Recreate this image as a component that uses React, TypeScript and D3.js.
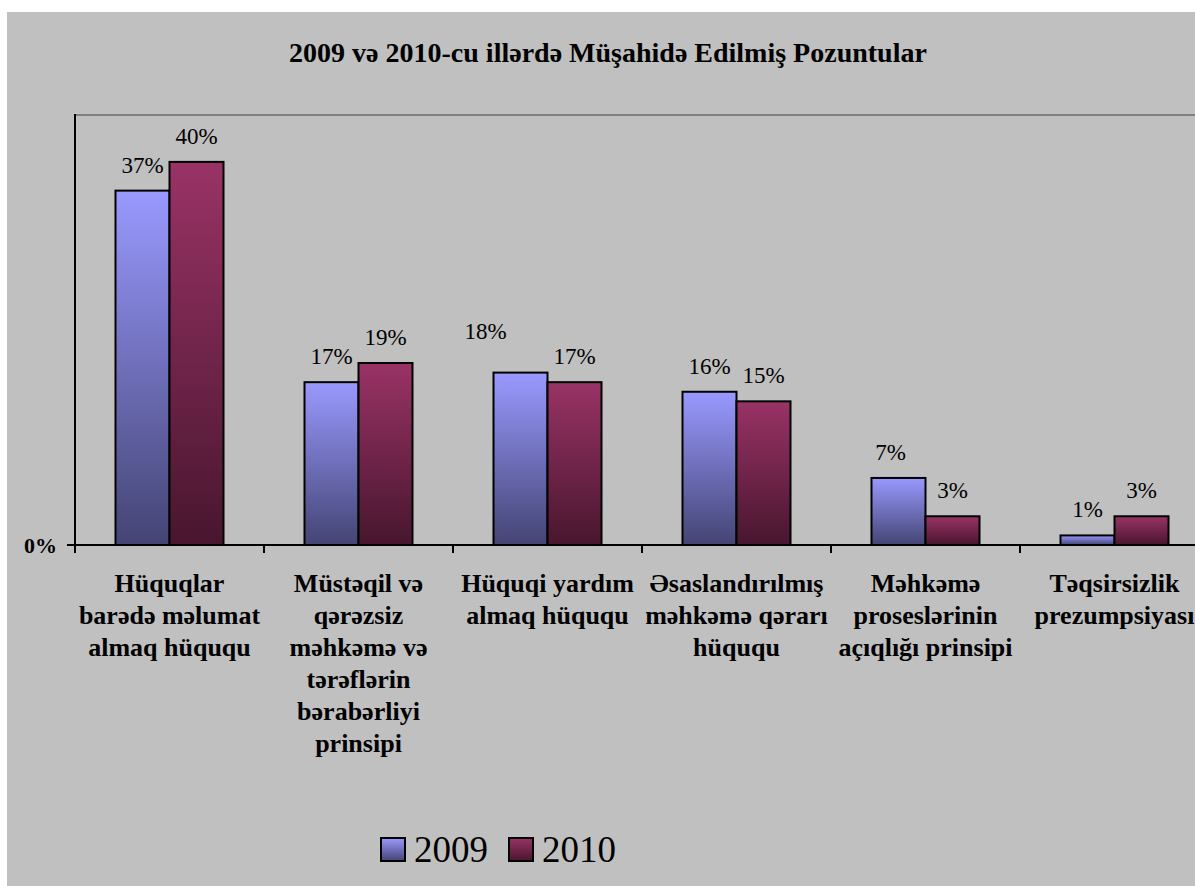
import React from "react";
import * as d3 from "d3";

const title = "2009 və 2010-cu illərdə Müşahidə Edilmiş Pozuntular";
const categories = [
  "Hüquqlar barədə məlumat almaq hüququ",
  "Müstəqil və qərəzsiz məhkəmə və tərəflərin bərabərliyi prinsipi",
  "Hüquqi yardım almaq hüququ",
  "Əsaslandırılmış məhkəmə qərarı hüququ",
  "Məhkəmə proseslərinin açıqlığı prinsipi",
  "Təqsirsizlik prezumpsiyası",
];
const categoryLines = [
  ["Hüquqlar", "barədə məlumat", "almaq hüququ"],
  ["Müstəqil və", "qərəzsiz", "məhkəmə və", "tərəflərin", "bərabərliyi", "prinsipi"],
  ["Hüquqi yardım", "almaq hüququ"],
  ["Əsaslandırılmış", "məhkəmə qərarı", "hüququ"],
  ["Məhkəmə", "proseslərinin", "açıqlığı prinsipi"],
  ["Təqsirsizlik", "prezumpsiyası"],
];
const seriesNames = ["2009", "2010"];
const values2009 = [0.37, 0.17, 0.18, 0.16, 0.07, 0.01];
const values2010 = [0.4, 0.19, 0.17, 0.15, 0.03, 0.03];
const yTicks = [0];

const FONT = "'Liberation Serif', 'Times New Roman', serif";

export default function App() {
  const left = 75;
  const step = 189;
  const baseY = 545;
  const topY = 114;
  const x0 = d3
    .scaleBand<string>()
    .domain(categories)
    .range([left, left + step * categories.length])
    .paddingInner(0)
    .paddingOuter(0);
  const x1 = d3
    .scaleBand<string>()
    .domain(seriesNames)
    .range([0, x0.bandwidth()])
    .paddingInner(0)
    .paddingOuter(0.75);
  const y = d3.scaleLinear().domain([0, 0.45]).range([baseY, topY]);
  const fmt = d3.format(".0%");
  const series = [values2009, values2010];
  const grads = ["g2009", "g2010"];

  return (
    <svg
      width={1195}
      height={886}
      style={{ position: "absolute", left: 0, top: 0 }}
      fontFamily={FONT}
    >
      <defs>
        <linearGradient id="g2009" x1="0" y1="0" x2="0" y2="1">
          <stop offset="0" stopColor="#9999ff" />
          <stop offset="1" stopColor="#444474" />
        </linearGradient>
        <linearGradient id="g2010" x1="0" y1="0" x2="0" y2="1">
          <stop offset="0" stopColor="#993366" />
          <stop offset="1" stopColor="#48162e" />
        </linearGradient>
      </defs>
      <rect x={0} y={0} width={1195} height={886} fill="#ffffff" />
      <rect x={7} y={12} width={1188} height={874} fill="#c0c0c0" />
      <text
        x={608}
        y={62}
        textAnchor="middle"
        fontWeight="bold"
        fontSize={28}
        fill="#000"
      >
        {title}
      </text>
      {/* plot top border */}
      <line x1={left} x2={1195} y1={topY + 1} y2={topY + 1} stroke="#808080" strokeWidth={2} />
      {/* bars */}
      {categories.map((c, i) =>
        series.map((vals, s) => {
          const bx = (x0(c) as number) + (x1(seriesNames[s]) as number);
          const by = y(vals[i]);
          return (
            <rect
              key={c + s}
              x={bx}
              y={by}
              width={x1.bandwidth()}
              height={baseY - by}
              fill={`url(#${grads[s]})`}
              stroke="#000"
              strokeWidth={2}
            />
          );
        })
      )}
      {/* value labels */}
      {categories.map((c, i) =>
        series.map((vals, s) => {
          const bx = (x0(c) as number) + (x1(seriesNames[s]) as number) + x1.bandwidth() / 2;
          const by = y(vals[i]);
          const special = i === 2 && s === 0;
          const dx = special ? -35 : i === 4 && s === 0 ? -8 : 0;
          const dy = special ? -16 : 0;
          return (
            <text
              key={"l" + c + s}
              x={bx + dx}
              y={by - 18 + dy}
              textAnchor="middle"
              fontSize={23}
              fill="#000"
            >
              {fmt(vals[i])}
            </text>
          );
        })
      )}
      {/* axes */}
      <line x1={left} x2={left} y1={topY} y2={baseY + 1} stroke="#000" strokeWidth={2} />
      <line x1={left - 8} x2={1195} y1={baseY} y2={baseY} stroke="#000" strokeWidth={2} />
      {yTicks.map((t) => (
        <text
          key={"yt" + t}
          x={57}
          y={y(t) + 8}
          textAnchor="end"
          fontWeight="bold"
          fontSize={22}
          fill="#000"
        >
          {fmt(t)}
        </text>
      ))}
      {categories.map((c) => (
        <line
          key={"tk" + c}
          x1={x0(c) as number}
          x2={x0(c) as number}
          y1={baseY}
          y2={baseY + 8}
          stroke="#000"
          strokeWidth={2}
        />
      ))}
      {categories.map((c, i) => (
        <text
          key={"cl" + c}
          x={(x0(c) as number) + x0.bandwidth() / 2}
          y={592}
          textAnchor="middle"
          fontWeight="bold"
          fontSize={26}
          fill="#000"
        >
          {categoryLines[i].map((ln, k) => (
            <tspan key={k} x={(x0(c) as number) + x0.bandwidth() / 2} y={592 + k * 32}>
              {ln}
            </tspan>
          ))}
        </text>
      ))}
      {/* legend */}
      {seriesNames.map((n, s) => {
        const lx = 381 + s * 128;
        return (
          <g key={"lg" + n}>
            <rect x={lx} y={838} width={24} height={23} fill={`url(#${grads[s]})`} stroke="#000" strokeWidth={2} />
            <text x={lx + 33} y={862} fontSize={37} fill="#000">
              {n}
            </text>
          </g>
        );
      })}
    </svg>
  );
}
